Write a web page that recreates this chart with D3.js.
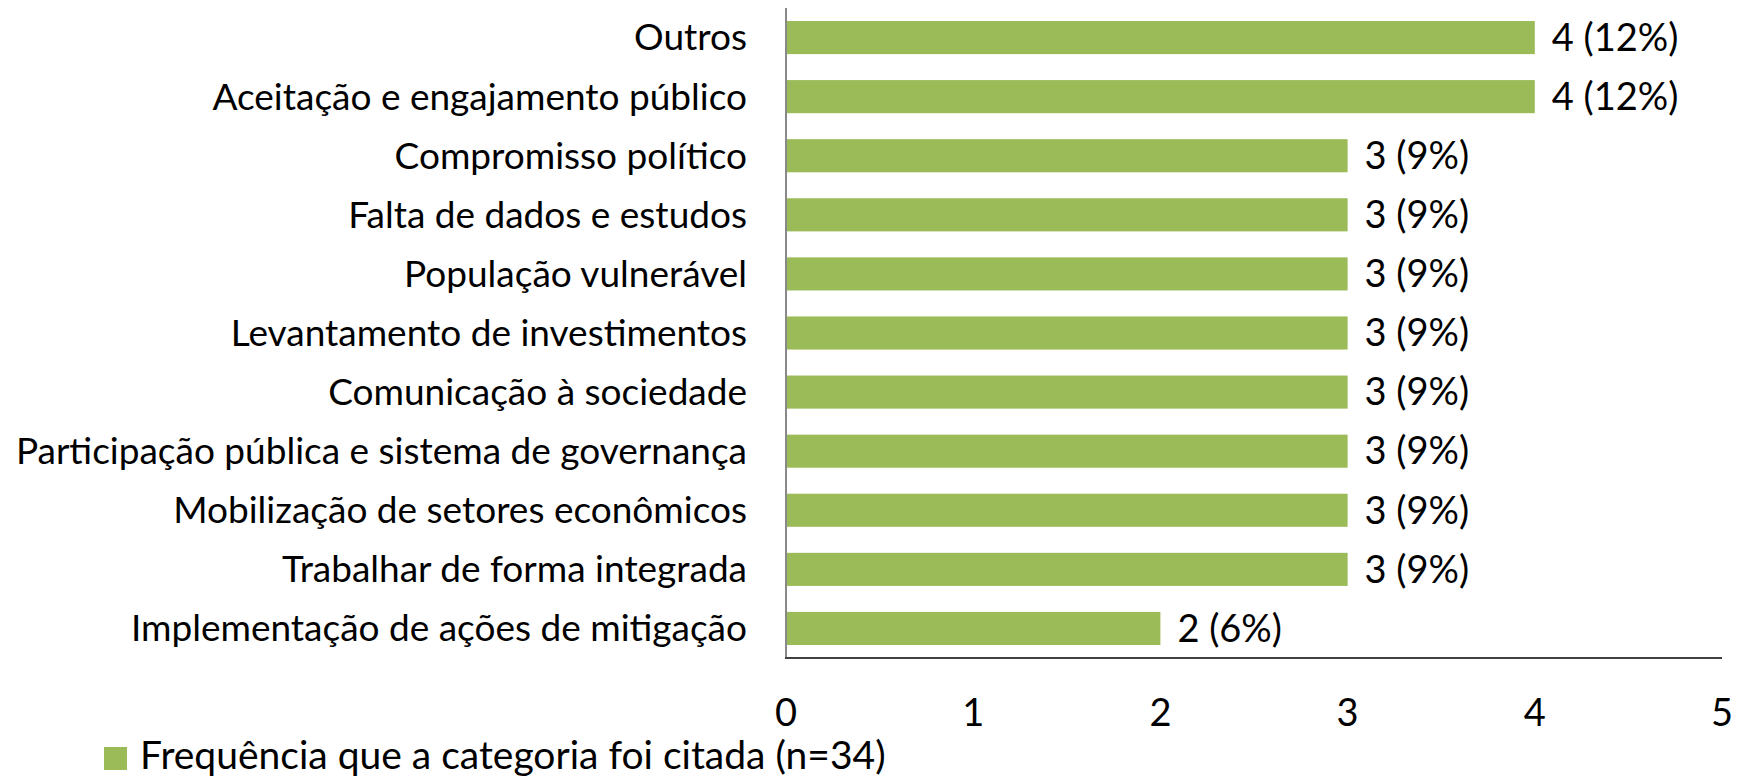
<!DOCTYPE html>
<html>
<head>
<meta charset="utf-8">
<script src="https://cdn.jsdelivr.net/npm/d3@7"></script>
<style>
  body { margin: 0; background: #fff; }
  text { font-family: Lato, "Open Sans", sans-serif; fill: #000; }
</style>
</head>
<body>
<div id="chart"></div>
<script>
var categories = ["Outros", "Aceitação e engajamento público", "Compromisso político",
    "Falta de dados e estudos", "População vulnerável", "Levantamento de investimentos",
    "Comunicação à sociedade", "Participação pública e sistema de governança",
    "Mobilização de setores econômicos", "Trabalhar de forma integrada",
    "Implementação de ações de mitigação"];
var counts = [4, 4, 3, 3, 3, 3, 3, 3, 3, 3, 2];
var percents = [12, 12, 9, 9, 9, 9, 9, 9, 9, 9, 6];
var xTicks = [0, 1, 2, 3, 4, 5];
var seriesName = "Frequência que a categoria foi citada (n=34)";

var svgW = 1746, svgH = 778;
var plotLeft = 786, plotRight = 1722, plotTop = 8, plotBottom = 658;
var fontSize = 38;

var svg = d3.select("#chart").append("svg")
    .attr("width", svgW)
    .attr("height", svgH);

var x = d3.scaleLinear().domain([0, 5]).range([plotLeft, plotRight]);
var y = d3.scaleBand().domain(categories).range([plotTop, plotBottom]).paddingInner(0.44).paddingOuter(0.22);

svg.selectAll("rect.bar")
    .data(categories)
    .enter().append("rect")
    .attr("class", "bar")
    .attr("x", x(0))
    .attr("y", function(d) { return y(d); })
    .attr("width", function(d, i) { return x(counts[i]) - x(0); })
    .attr("height", y.bandwidth())
    .attr("fill", "#9BBB59");

// value labels
svg.selectAll("text.val")
    .data(categories)
    .enter().append("text")
    .attr("class", "val")
    .attr("x", function(d, i) { return x(counts[i]) + 17; })
    .attr("y", function(d) { return y(d) + y.bandwidth() / 2; })
    .attr("dy", "0.35em")
    .style("font-size", fontSize + "px")
    .text(function(d, i) { return counts[i] + " (" + percents[i] + "%)"; });

// category labels
svg.selectAll("text.cat")
    .data(categories)
    .enter().append("text")
    .attr("class", "cat")
    .attr("x", 747)
    .attr("y", function(d) { return y(d) + y.bandwidth() / 2; })
    .attr("dy", "0.35em")
    .attr("text-anchor", "end")
    .style("font-size", "37px")
    .text(function(d) { return d; });

// axis lines
svg.append("line")
    .attr("x1", plotLeft).attr("x2", plotLeft)
    .attr("y1", plotTop).attr("y2", plotBottom)
    .attr("stroke", "#898989").attr("stroke-width", 2);

svg.append("line")
    .attr("x1", plotLeft - 1).attr("x2", plotRight)
    .attr("y1", plotBottom).attr("y2", plotBottom)
    .attr("stroke", "#404040").attr("stroke-width", 2);

// tick labels
svg.selectAll("text.tick")
    .data(xTicks)
    .enter().append("text")
    .attr("class", "tick")
    .attr("x", function(d) { return x(d); })
    .attr("y", 713)
    .attr("dy", "0.35em")
    .attr("text-anchor", "middle")
    .style("font-size", fontSize + "px")
    .text(function(d) { return d; });

// legend
svg.append("rect")
    .attr("x", 104).attr("y", 747)
    .attr("width", 23).attr("height", 23)
    .attr("fill", "#9BBB59");

svg.append("text")
    .attr("x", 140)
    .attr("y", 755)
    .attr("dy", "0.35em")
    .style("font-size", "39px")
    .text(seriesName);
</script>
</body>
</html>
